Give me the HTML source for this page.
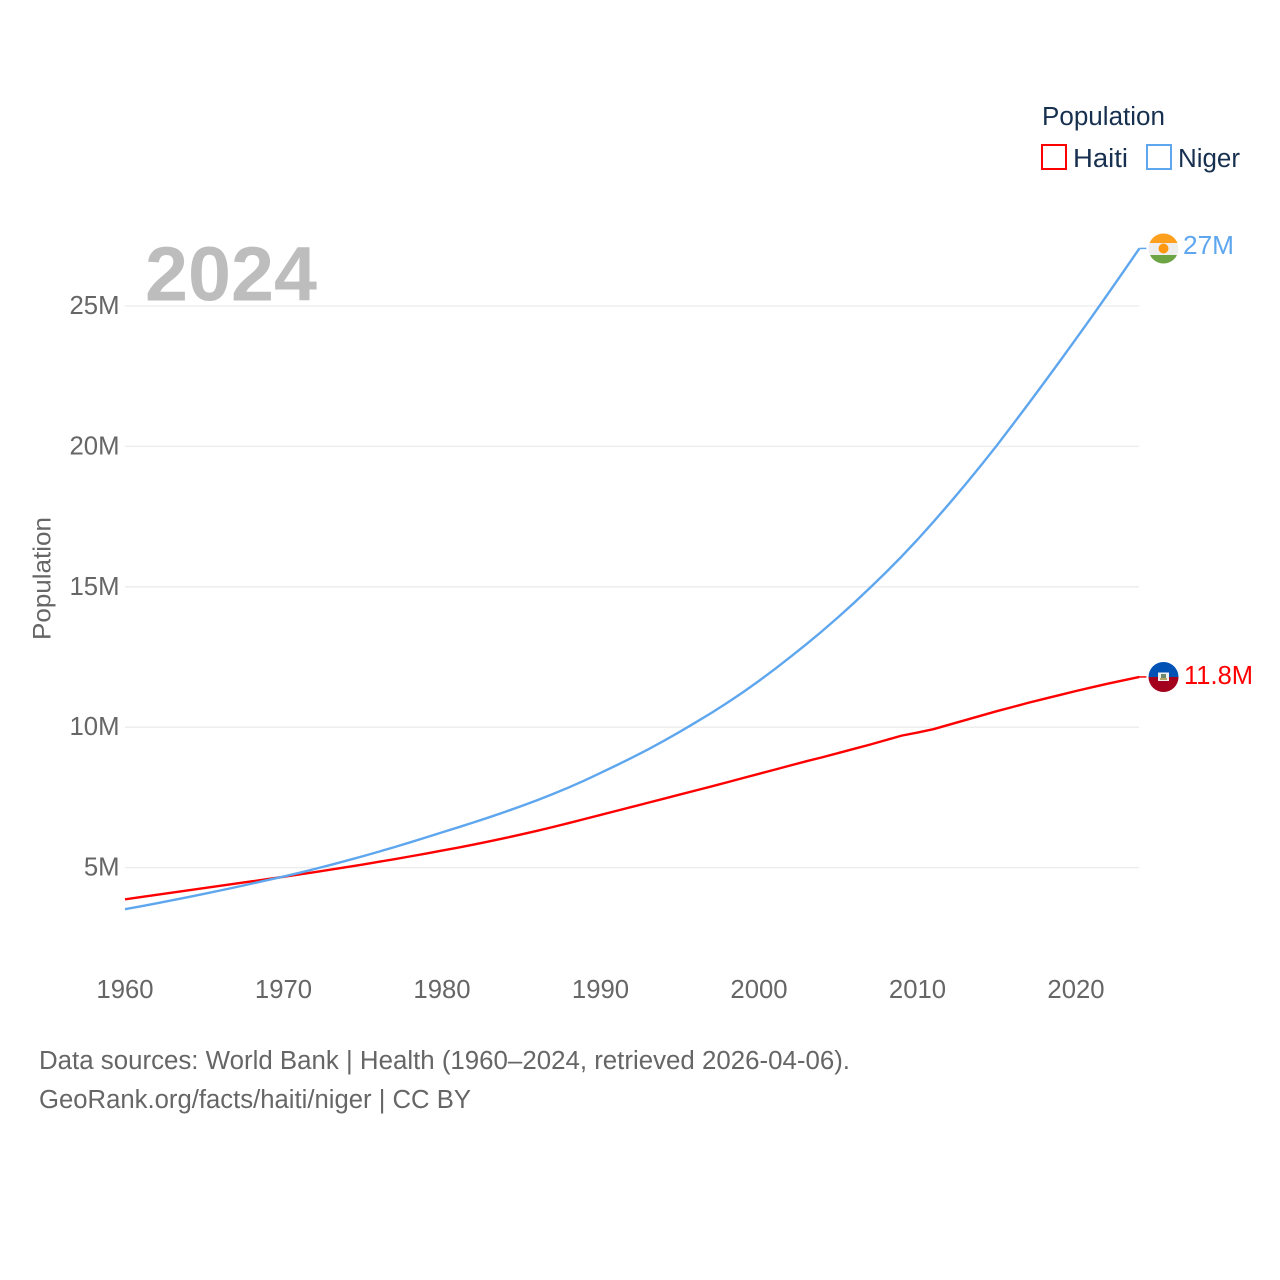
<!DOCTYPE html>
<html>
<head>
<meta charset="utf-8">
<title>Population: Haiti and Niger</title>
<style>
html,body{margin:0;padding:0;background:#fff;width:1280px;height:1280px;overflow:hidden}
svg{display:block}
text{font-family:"Liberation Sans",sans-serif}
</style>
</head>
<body>
<svg id="chart" width="1280" height="1280" viewBox="0 0 1280 1280" xmlns="http://www.w3.org/2000/svg">
  <defs>
    <clipPath id="clip-ne"><circle cx="1163.5" cy="248.5" r="15"/></clipPath>
    <clipPath id="clip-ht"><circle cx="1163.5" cy="677" r="15"/></clipPath>
  </defs>
  <g id="grid"></g>
  <g id="yticks"></g>
  <g id="xticks"></g>
  <text x="145" y="300.5" font-size="77" font-weight="700" fill="#bdbdbd" textLength="172" lengthAdjust="spacingAndGlyphs">2024</text>
  <text transform="translate(50.5,640) rotate(-90)" font-size="25" fill="#666" textLength="123" lengthAdjust="spacingAndGlyphs">Population</text>
  <g id="series"></g>

  <g>
    <text x="1042" y="125" font-size="25.5" fill="#17304f" textLength="123" lengthAdjust="spacingAndGlyphs">Population</text>
    <g>
      <rect x="1042" y="145" width="24" height="24" fill="#fff" stroke="#ff0000" stroke-width="2"/>
      <text x="1073" y="167" font-size="25.5" fill="#17304f" textLength="55" lengthAdjust="spacingAndGlyphs">Haiti</text>
    </g>
    <g>
      <rect x="1147" y="145" width="24" height="24" fill="#fff" stroke="#5ea6ee" stroke-width="2"/>
      <text x="1178" y="167" font-size="25.5" fill="#17304f" textLength="62" lengthAdjust="spacingAndGlyphs">Niger</text>
    </g>
  </g>

  <g clip-path="url(#clip-ne)">
    <rect x="1148" y="233" width="31" height="10" fill="#ff9f1e"/>
    <rect x="1148" y="243" width="31" height="12" fill="#eeeeee"/>
    <rect x="1148" y="255" width="31" height="10" fill="#6da544"/>
    <circle cx="1163.5" cy="248.5" r="5" fill="#ff9811"/>
  </g>
  <text x="1183" y="254" font-size="25.5" fill="#5ea6ee" textLength="51" lengthAdjust="spacingAndGlyphs">27M</text>

  <g clip-path="url(#clip-ht)">
    <rect x="1148" y="662" width="31" height="15" fill="#0052b4"/>
    <rect x="1148" y="677" width="31" height="16" fill="#a2001d"/>
    <rect x="1158" y="672.5" width="11" height="8.5" fill="#f0f0f0"/>
    <rect x="1161" y="674" width="5" height="4" fill="#6b8a6b"/>
    <rect x="1160" y="678" width="7" height="2" fill="#b3a76a"/>
  </g>
  <text x="1184" y="684" font-size="25.5" fill="#ff0000" textLength="69" lengthAdjust="spacingAndGlyphs">11.8M</text>

  <g>
    <text x="39" y="1069" font-size="25.5" fill="#666" textLength="811" lengthAdjust="spacingAndGlyphs">Data sources: World Bank | Health (1960–2024, retrieved 2026-04-06).</text>
    <text x="39" y="1108" font-size="25.5" fill="#666" textLength="432" lengthAdjust="spacingAndGlyphs">GeoRank.org/facts/haiti/niger | CC BY</text>
  </g>
</svg>
<script>
const startYear = 1960;
const haitiValues = [3.87,3.95,4.03,4.11,4.19,4.27,4.35,4.43,4.51,4.59,
  4.67,4.755,4.84,4.93,5.02,5.11,5.205,5.30,5.40,5.50,
  5.605,5.71,5.82,5.935,6.055,6.18,6.31,6.445,6.585,6.73,
  6.875,7.02,7.165,7.31,7.455,7.60,7.745,7.89,8.04,8.19,
  8.34,8.49,8.64,8.79,8.93,9.08,9.23,9.38,9.54,9.70,
  9.81,9.93,10.09,10.25,10.41,10.57,10.72,10.87,11.01,11.15,
  11.29,11.42,11.55,11.67,11.79];
const nigerValues = [3.52,3.62,3.73,3.84,3.95,4.065,4.185,4.305,4.43,4.555,
  4.68,4.815,4.955,5.10,5.25,5.405,5.565,5.73,5.90,6.075,
  6.255,6.43,6.61,6.795,6.99,7.19,7.40,7.62,7.855,8.105,
  8.37,8.64,8.92,9.21,9.515,9.835,10.17,10.51,10.87,11.25,
  11.65,12.07,12.51,12.96,13.43,13.92,14.43,14.96,15.51,16.08,
  16.68,17.31,17.96,18.63,19.32,20.03,20.77,21.52,22.28,23.05,
  23.83,24.62,25.42,26.23,27.05];
const yTickValues = [5,10,15,20,25];
const yTickLabels = ["5M","10M","15M","20M","25M"];
const xTickValues = [1960,1970,1980,1990,2000,2010,2020];
const xTickLabels = ["1960","1970","1980","1990","2000","2010","2020"];

const NS = 'http://www.w3.org/2000/svg';
function xScale(year){ return 125 + (year - 1960) * 15.85; }
function yScale(v){ return 867.6 - (v - 5) * 28.08; }

const grid = document.getElementById('grid');
const yticks = document.getElementById('yticks');
const xticks = document.getElementById('xticks');
const series = document.getElementById('series');

yTickValues.forEach(function(v, i){
  const l = document.createElementNS(NS, 'line');
  
  
  l.setAttribute('x1', 125);
  l.setAttribute('x2', 1139);
  l.setAttribute('y1', yScale(v));
  l.setAttribute('y2', yScale(v));
  l.setAttribute('stroke', '#ececec');
  l.setAttribute('stroke-width', '1.3');
  grid.appendChild(l);
  const t = document.createElementNS(NS, 'text');
  
  
  t.setAttribute('x', 119.5);
  t.setAttribute('y', yScale(v) + 8);
  t.setAttribute('text-anchor', 'end');
  t.setAttribute('font-size', '25.7');
  t.setAttribute('fill', '#666');
  t.textContent = yTickLabels[i];
  yticks.appendChild(t);
});

xTickValues.forEach(function(v, i){
  const t = document.createElementNS(NS, 'text');
  
  
  t.setAttribute('x', xScale(v));
  t.setAttribute('y', 998);
  t.setAttribute('text-anchor', 'middle');
  t.setAttribute('font-size', '25.7');
  t.setAttribute('fill', '#666');
  t.textContent = xTickLabels[i];
  xticks.appendChild(t);
});

function linePath(values){
  return values.map(function(v, i){
    return (i ? 'L' : 'M') + xScale(startYear + i).toFixed(2) + ' ' + yScale(v).toFixed(2);
  }).join(' ');
}

const haitiLine = document.createElementNS(NS, 'path');


haitiLine.setAttribute('d', linePath(haitiValues));
haitiLine.setAttribute('fill', 'none');
haitiLine.setAttribute('stroke', '#ff0000');
haitiLine.setAttribute('stroke-width', '2.4');
haitiLine.setAttribute('stroke-linejoin', 'round');
series.appendChild(haitiLine);

const nigerLine = document.createElementNS(NS, 'path');


nigerLine.setAttribute('d', linePath(nigerValues));
nigerLine.setAttribute('fill', 'none');
nigerLine.setAttribute('stroke', '#5ea6ee');
nigerLine.setAttribute('stroke-width', '2.4');
nigerLine.setAttribute('stroke-linejoin', 'round');
series.appendChild(nigerLine);

const endYear = startYear + nigerValues.length - 1;

const nigerLeader = document.createElementNS(NS, 'line');


nigerLeader.setAttribute('x1', xScale(endYear));
nigerLeader.setAttribute('y1', yScale(nigerValues[nigerValues.length - 1]));
nigerLeader.setAttribute('x2', xScale(endYear) + 7);
nigerLeader.setAttribute('y2', yScale(nigerValues[nigerValues.length - 1]));
nigerLeader.setAttribute('stroke', '#5ea6ee');
nigerLeader.setAttribute('stroke-width', '1.5');
series.appendChild(nigerLeader);

const haitiLeader = document.createElementNS(NS, 'line');


haitiLeader.setAttribute('x1', xScale(endYear));
haitiLeader.setAttribute('y1', yScale(haitiValues[haitiValues.length - 1]));
haitiLeader.setAttribute('x2', xScale(endYear) + 7);
haitiLeader.setAttribute('y2', yScale(haitiValues[haitiValues.length - 1]));
haitiLeader.setAttribute('stroke', '#ff0000');
haitiLeader.setAttribute('stroke-width', '1.5');
series.appendChild(haitiLeader);
</script>
</body>
</html>
